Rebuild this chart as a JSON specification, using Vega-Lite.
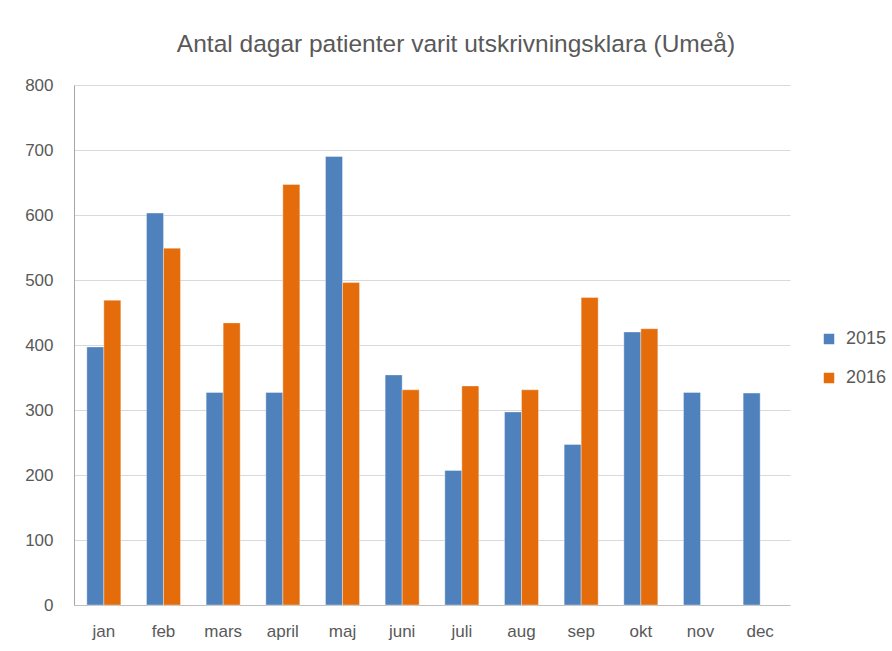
{
  "$schema": "https://vega.github.io/schema/vega-lite/v6.json",
  "width": 716,
  "height": 520,
  "autosize": "none",
  "padding": {"left": 74, "top": 85, "right": 102, "bottom": 46},
  "background": "white",
  "title": {
    "text": "Antal dagar patienter varit utskrivningsklara  (Umeå)",
    "font": "Liberation Sans",
    "fontSize": 24.5,
    "fontWeight": "normal",
    "color": "#595959",
    "anchor": "middle",
    "dx": 24,
    "offset": 19
  },
  "data": {
    "values": [
      {"month": "jan", "year": "2015", "value": 397},
      {"month": "jan", "year": "2016", "value": 469},
      {"month": "feb", "year": "2015", "value": 603},
      {"month": "feb", "year": "2016", "value": 549},
      {"month": "mars", "year": "2015", "value": 327},
      {"month": "mars", "year": "2016", "value": 434},
      {"month": "april", "year": "2015", "value": 327},
      {"month": "april", "year": "2016", "value": 647},
      {"month": "maj", "year": "2015", "value": 690},
      {"month": "maj", "year": "2016", "value": 496},
      {"month": "juni", "year": "2015", "value": 354},
      {"month": "juni", "year": "2016", "value": 331},
      {"month": "juli", "year": "2015", "value": 207},
      {"month": "juli", "year": "2016", "value": 337},
      {"month": "aug", "year": "2015", "value": 297},
      {"month": "aug", "year": "2016", "value": 331},
      {"month": "sep", "year": "2015", "value": 247},
      {"month": "sep", "year": "2016", "value": 473},
      {"month": "okt", "year": "2015", "value": 420},
      {"month": "okt", "year": "2016", "value": 425},
      {"month": "nov", "year": "2015", "value": 327},
      {"month": "dec", "year": "2015", "value": 326}
    ]
  },
  "mark": {"type": "bar", "stroke": "white", "strokeWidth": 0.6, "strokeOpacity": 0.6},
  "encoding": {
    "x": {
      "field": "month",
      "type": "nominal",
      "sort": ["jan", "feb", "mars", "april", "maj", "juni", "juli", "aug", "sep", "okt", "nov", "dec"],
      "scale": {"paddingInner": 0.43, "paddingOuter": 0.215},
      "axis": {
        "title": null,
        "labelAngle": 0,
        "labelFont": "Liberation Sans",
        "labelFontSize": 17,
        "labelColor": "#595959",
        "labelPadding": 18,
        "ticks": false,
        "domainColor": "#bfbfbf",
        "domainWidth": 1,
        "grid": false
      }
    },
    "xOffset": {"field": "year", "type": "nominal", "scale": {"paddingInner": 0, "paddingOuter": 0}},
    "y": {
      "field": "value",
      "type": "quantitative",
      "scale": {"domain": [0, 800]},
      "axis": {
        "title": null,
        "values": [0, 100, 200, 300, 400, 500, 600, 700, 800],
        "labelFont": "Liberation Sans",
        "labelFontSize": 17,
        "labelColor": "#595959",
        "labelPadding": 21,
        "ticks": false,
        "domain": true,
        "domainColor": "#a6a6a6",
        "gridColor": "#d9d9d9",
        "gridWidth": 1
      }
    },
    "color": {
      "field": "year",
      "type": "nominal",
      "scale": {"domain": ["2015", "2016"], "range": ["#4f81bd", "#e46c0a"]},
      "legend": {
        "title": null,
        "orient": "none",
        "legendX": 746,
        "legendY": 245,
        "symbolType": "square",
        "symbolSize": 110,
        "symbolStrokeWidth": 0,
        "labelFont": "Liberation Sans",
        "labelFontSize": 18,
        "labelColor": "#595959",
        "rowPadding": 21,
        "labelOffset": 8
      }
    }
  },
  "config": {"view": {"stroke": null}}
}
